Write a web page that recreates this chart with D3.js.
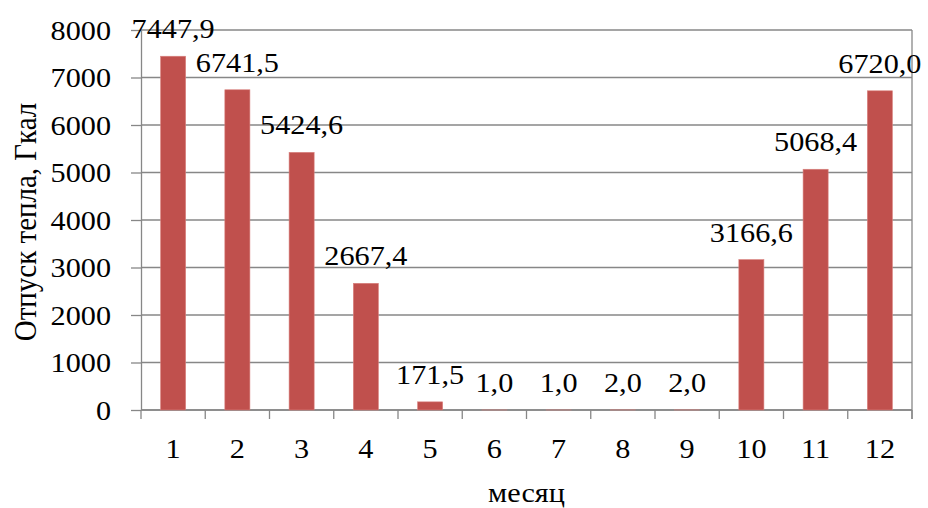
<!DOCTYPE html>
<html>
<head>
<meta charset="utf-8">
<script src="https://cdn.jsdelivr.net/npm/d3@7"></script>
<style>
  html, body { margin: 0; padding: 0; background: #fff; }
</style>
</head>
<body>
<svg id="chart" width="928" height="508"></svg>
<script>
// Monthly heat output, Gcal
const months = ["1", "2", "3", "4", "5", "6", "7", "8", "9", "10", "11", "12"];
const heat = [7447.9, 6741.5, 5424.6, 2667.4, 171.5, 1.0, 1.0, 2.0, 2.0, 3166.6, 5068.4, 6720.0];
const valueLabels = ["7447,9", "6741,5", "5424,6", "2667,4", "171,5", "1,0", "1,0", "2,0", "2,0", "3166,6", "5068,4", "6720,0"];
const yTicks = [0, 1000, 2000, 3000, 4000, 5000, 6000, 7000, 8000];
const yTitle = "Отпуск тепла, Гкал";
const xTitle = "месяц";

const svg = d3.select("#chart");
const FONT = "'Liberation Serif', 'Times New Roman', serif";
const plot = { left: 141, right: 912, top: 30, bottom: 410 };
const gridColor = "#878787";
const barColor = "#C0504D";
const fontSize = 27;
const stretch = 1.12;

const x = d3.scaleBand().domain(months).range([plot.left, plot.right]).paddingInner(0).paddingOuter(0);
const y = d3.scaleLinear().domain([0, 8000]).range([plot.bottom, plot.top]);
const barW = x.bandwidth() * 0.39;

// horizontal gridlines
svg.append("g").selectAll("line").data(yTicks).join("line")
  .attr("x1", plot.left).attr("x2", plot.right)
  .attr("y1", d => y(d)).attr("y2", d => y(d))
  .attr("stroke", gridColor).attr("stroke-width", 1.3);

// right border
svg.append("line")
  .attr("x1", plot.right).attr("x2", plot.right)
  .attr("y1", plot.top).attr("y2", plot.bottom + 9)
  .attr("stroke", gridColor).attr("stroke-width", 1.3);

// y axis
const yAxis = svg.append("g").attr("transform", `translate(${plot.left},0)`)
  .call(d3.axisLeft(y).tickValues(yTicks).tickSize(10).tickSizeOuter(0).tickPadding(9).tickFormat(d3.format("d")));
yAxis.attr("font-family", FONT).attr("font-size", fontSize);
yAxis.select(".domain").attr("stroke", gridColor).attr("stroke-width", 1.3);
yAxis.selectAll(".tick line").attr("stroke", gridColor).attr("stroke-width", 1.3);
yAxis.selectAll(".tick text")
  .attr("dy", null).attr("x", null)
  .attr("font-family", FONT).attr("font-size", fontSize)
  .attr("transform", `translate(-30,9) scale(${stretch},1)`);

// x axis: tick marks at band boundaries, labels at band centres
const xAxisG = svg.append("g").attr("transform", `translate(0,${plot.bottom})`);
xAxisG.append("line").attr("x1", plot.left).attr("x2", plot.right)
  .attr("stroke", gridColor).attr("stroke-width", 1.3);
const bounds = months.map(m => x(m)).concat([plot.right]);
xAxisG.selectAll("line.tk").data(bounds).join("line").attr("class", "tk")
  .attr("x1", d => d).attr("x2", d => d).attr("y1", 0).attr("y2", 9)
  .attr("stroke", gridColor).attr("stroke-width", 1.3);
xAxisG.selectAll("text").data(months).join("text")
  .attr("transform", d => `translate(${x(d) + x.bandwidth() / 2},48) scale(${stretch},1)`)
  .attr("text-anchor", "middle").attr("font-size", fontSize).attr("font-family", FONT)
  .text(d => d);

// bars
svg.append("g").selectAll("rect").data(heat).join("rect")
  .attr("x", (d, i) => x(months[i]) + x.bandwidth() / 2 - barW / 2)
  .attr("width", barW)
  .attr("y", d => y(d))
  .attr("height", d => y(0) - y(d))
  .attr("fill", barColor)
  .attr("stroke", "#d9827f").attr("stroke-width", 0.6);

// value labels
svg.append("g").selectAll("text").data(heat).join("text")
  .attr("transform", (d, i) => `translate(${x(months[i]) + x.bandwidth() / 2},${y(d) - 18}) scale(${stretch},1)`)
  .attr("text-anchor", "middle").attr("font-size", fontSize).attr("font-family", FONT)
  .text((d, i) => valueLabels[i]);

// axis titles
svg.append("text")
  .attr("transform", `translate(${(plot.left + plot.right) / 2},502) scale(${stretch},1)`)
  .attr("text-anchor", "middle").attr("font-size", fontSize).attr("font-family", FONT)
  .text(xTitle);

svg.append("text")
  .attr("transform", `translate(36,222) rotate(-90) scale(1,${stretch})`)
  .attr("text-anchor", "middle").attr("font-size", 29).attr("font-family", FONT)
  .text(yTitle);
</script>
</body>
</html>
